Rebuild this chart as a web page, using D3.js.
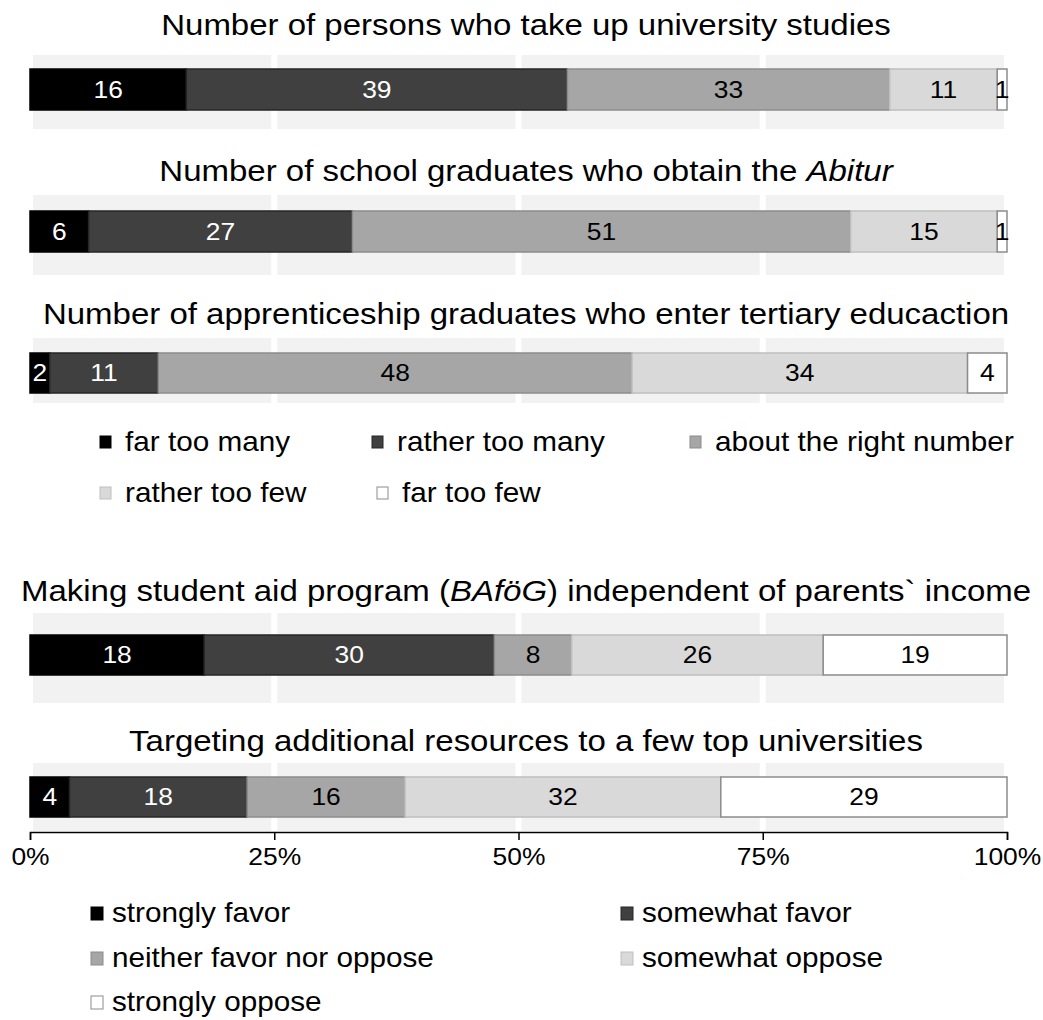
<!DOCTYPE html>
<html>
<head>
<meta charset="utf-8">
<script src="https://cdn.jsdelivr.net/npm/d3@7"></script>
<style>
  body { margin: 0; background: #fff; }
  text { font-family: "Liberation Sans", Arial, sans-serif; }
</style>
</head>
<body>
<div id="canvas"></div>
<script>
"use strict"

let svgWidth = 1043
let svgHeight = 1020

// data
let amountKeys = ["far too many", "rather too many", "about the right number", "rather too few", "far too few"]
let policyKeys = ["strongly favor", "somewhat favor", "neither favor nor oppose", "somewhat oppose", "strongly oppose"]

let amountQuestions = [
    ["Number of persons who take up university studies"],
    ["Number of school graduates who obtain the ", "Abitur"],
    ["Number of apprenticeship graduates who enter tertiary educaction"]
]
let amountValues = [
    [16, 39, 33, 11, 1],
    [6, 27, 51, 15, 1],
    [2, 11, 48, 34, 4]
]

let policyQuestions = [
    ["Making student aid program (", "BAföG", ") independent of parents` income"],
    ["Targeting additional resources to a few top universities"]
]
let policyValues = [
    [18, 30, 8, 26, 19],
    [4, 18, 16, 32, 29]
]

let tickValues = [0, 0.25, 0.5, 0.75, 1]

// styles
let fills = ["#000000", "#404040", "#a6a6a6", "#d9d9d9", "#ffffff"]
let strokes = ["#000000", "#262626", "#8c8c8c", "#bfbfbf", "#8c8c8c"]
let labelColors = ["#ffffff", "#ffffff", "#000000", "#000000", "#000000"]
let stretch = 1.1   // the original text is a bit wider than Liberation Sans

// layout of each row: title baseline, bar top/bottom, band top/bottom
let rows = [
    {title: 35, y0: 69, y1: 110, b0: 55, b1: 129},
    {title: 181, y0: 211, y1: 252, b0: 195, b1: 275},
    {title: 324, y0: 353, y1: 393, b0: 338, b1: 403},
    {title: 601, y0: 635, y1: 675, b0: 613, b1: 703},
    {title: 751, y0: 777, y1: 817, b0: 763, b1: 831}
]

let drawing = d3.select("#canvas")
    .append("svg")
    .attr("width", svgWidth)
    .attr("height", svgHeight)

let x = d3.scaleLinear().domain([0, 1]).range([30, 1007])

let stack = d3.stack()
    .keys(d3.range(5))
    .offset(d3.stackOffsetExpand)

let allQuestions = amountQuestions.concat(policyQuestions)
let allValues = amountValues.concat(policyValues)

allValues.forEach(function(vals, i) {
    let row = rows[i]
    let g = drawing.append("g")

    // grey background bands between gridlines
    g.selectAll("rect.band")
        .data(d3.pairs(tickValues))
        .join("rect")
        .attr("x", d => x(d[0]) + 3)
        .attr("width", d => x(d[1]) - x(d[0]) - 6)
        .attr("y", row.b0)
        .attr("height", row.b1 - row.b0)
        .attr("fill", "#f2f2f2")

    // title
    let t = g.append("text")
        .attr("transform", `translate(526,${row.title}) scale(${stretch},1)`)
        .attr("text-anchor", "middle")
        .attr("font-size", 30)
        .attr("fill", "#000")
    allQuestions[i].forEach(function(part, j) {
        t.append("tspan")
            .attr("font-style", j == 1 ? "italic" : "normal")
            .text(part)
    })

    let series = stack([vals])
    let segs = series.map((s, k) => ({k: k, a: s[0][0], b: s[0][1], v: vals[k]}))

    g.selectAll("rect.seg")
        .data(segs)
        .join("rect")
        .attr("x", d => x(d.a))
        .attr("width", d => x(d.b) - x(d.a))
        .attr("y", row.y0)
        .attr("height", row.y1 - row.y0)
        .attr("fill", d => fills[d.k])
        .attr("stroke", d => strokes[d.k])
        .attr("stroke-width", 1.5)

    g.selectAll("text.lab")
        .data(segs)
        .join("text")
        .attr("transform", d => `translate(${(x(d.a) + x(d.b)) / 2},${(row.y0 + row.y1) / 2 + 8}) scale(${stretch},1)`)
        .attr("text-anchor", "middle")
        .attr("font-size", 24)
        .attr("fill", d => labelColors[d.k])
        .text(d => d.v)
})

// axis
let axis = drawing.append("g")
    .attr("transform", "translate(0,832)")
    .call(d3.axisBottom(x).tickValues(tickValues).tickFormat(d3.format(".0%")).tickSize(8).tickPadding(8))
axis.select(".domain").attr("stroke", "#000").attr("stroke-width", 1.5)
axis.selectAll(".tick line").attr("stroke", "#000").attr("stroke-width", 1.5)
axis.selectAll(".tick text")
    .attr("font-size", 24)
    .attr("font-family", "Liberation Sans, Arial, sans-serif")
    .attr("fill", "#000")
    .attr("transform", `scale(${stretch},1)`)

// legend 1
let legend1Pos = [[100, 442], [372, 442], [690, 442], [100, 493], [377, 493]]
let leg1 = drawing.append("g")
    .selectAll("g")
    .data(amountKeys)
    .join("g")
    .attr("transform", (d, i) => `translate(${legend1Pos[i][0]},${legend1Pos[i][1]})`)
leg1.append("rect")
    .attr("x", 0).attr("y", -6).attr("width", 11).attr("height", 12)
    .attr("fill", (d, i) => fills[i])
    .attr("stroke", (d, i) => strokes[i])
leg1.append("text")
    .attr("transform", `translate(25,9) scale(${stretch},1)`)
    .attr("font-size", 27)
    .text(d => d)

// legend 2
let legend2Pos = [[91, 913], [621, 913], [91, 958], [621, 958], [91, 1002]]
let leg2 = drawing.append("g")
    .selectAll("g")
    .data(policyKeys)
    .join("g")
    .attr("transform", (d, i) => `translate(${legend2Pos[i][0]},${legend2Pos[i][1]})`)
leg2.append("rect")
    .attr("x", 0).attr("y", -6).attr("width", 12).attr("height", 13)
    .attr("fill", (d, i) => fills[i])
    .attr("stroke", (d, i) => strokes[i])
leg2.append("text")
    .attr("transform", `translate(21,9) scale(${stretch},1)`)
    .attr("font-size", 27)
    .text(d => d)
</script>
</body>
</html>
